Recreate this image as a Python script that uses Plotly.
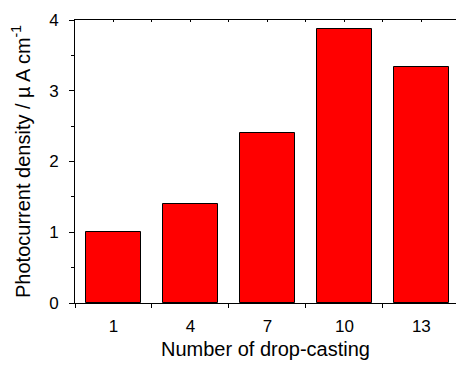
import plotly.graph_objects as go

categories = [1, 4, 7, 10, 13]
values = [1.0, 1.40, 2.40, 3.87, 3.34]
y_ticks = [0, 1, 2, 3, 4]
x_title = "Number of drop-casting"
y_title = "Photocurrent density / µ A cm<sup>-1</sup>"

FONT = "Liberation Sans, Arial, sans-serif"

fig = go.Figure()
fig.add_trace(go.Bar(
    x=categories, y=values, width=2.14,
    marker=dict(color="#FF0000", line=dict(color="#000000", width=1)),
    showlegend=False,
))
# invisible trace for top axis
fig.add_trace(go.Scatter(x=[categories[0]], y=[0], xaxis="x2", mode="markers",
                         marker=dict(opacity=0), showlegend=False, hoverinfo="skip"))

fig.update_layout(
    width=456, height=367,
    margin=dict(l=75, r=0, t=20, b=64),
    plot_bgcolor="white", paper_bgcolor="white",
    font=dict(family=FONT, size=17, color="black"),
    bargap=0,
    xaxis=dict(
        range=[-0.5, 14.35], showgrid=False, zeroline=False,
        showline=True, linecolor="black", linewidth=1,
        tickmode="array", tickvals=categories, ticktext=[str(c) for c in categories],
        ticks="", ticklabelstandoff=8,
        minor=dict(tickmode="array", tickvals=[-0.5, 2.5, 5.5, 8.5, 11.5, 14.5], ticks="outside", ticklen=4, tickcolor="black"),
        title=dict(text=x_title, font=dict(size=20), standoff=6),
        tickfont=dict(size=17),
    ),
    xaxis2=dict(
        range=[-0.5, 14.35], overlaying="x", side="top", showgrid=False, zeroline=False,
        showline=True, linecolor="black", linewidth=1,
        tickmode="linear", tick0=-0.5, dtick=1.5, ticks="inside", ticklen=2, tickcolor="black",
        showticklabels=False,
    ),
    yaxis=dict(
        range=[0, 4], showgrid=False, zeroline=False,
        showline=True, linecolor="black", linewidth=1,
        tickmode="array", tickvals=y_ticks, ticks="outside", ticklen=5, tickcolor="black",
        ticklabelstandoff=7,
        minor=dict(tickmode="array", tickvals=[0.5, 1.5, 2.5, 3.5], ticks="outside", ticklen=3, tickcolor="black"),
        title=dict(text=y_title, font=dict(size=20), standoff=13),
        tickfont=dict(size=17),
    ),
)

fig.write_html("out.html")
